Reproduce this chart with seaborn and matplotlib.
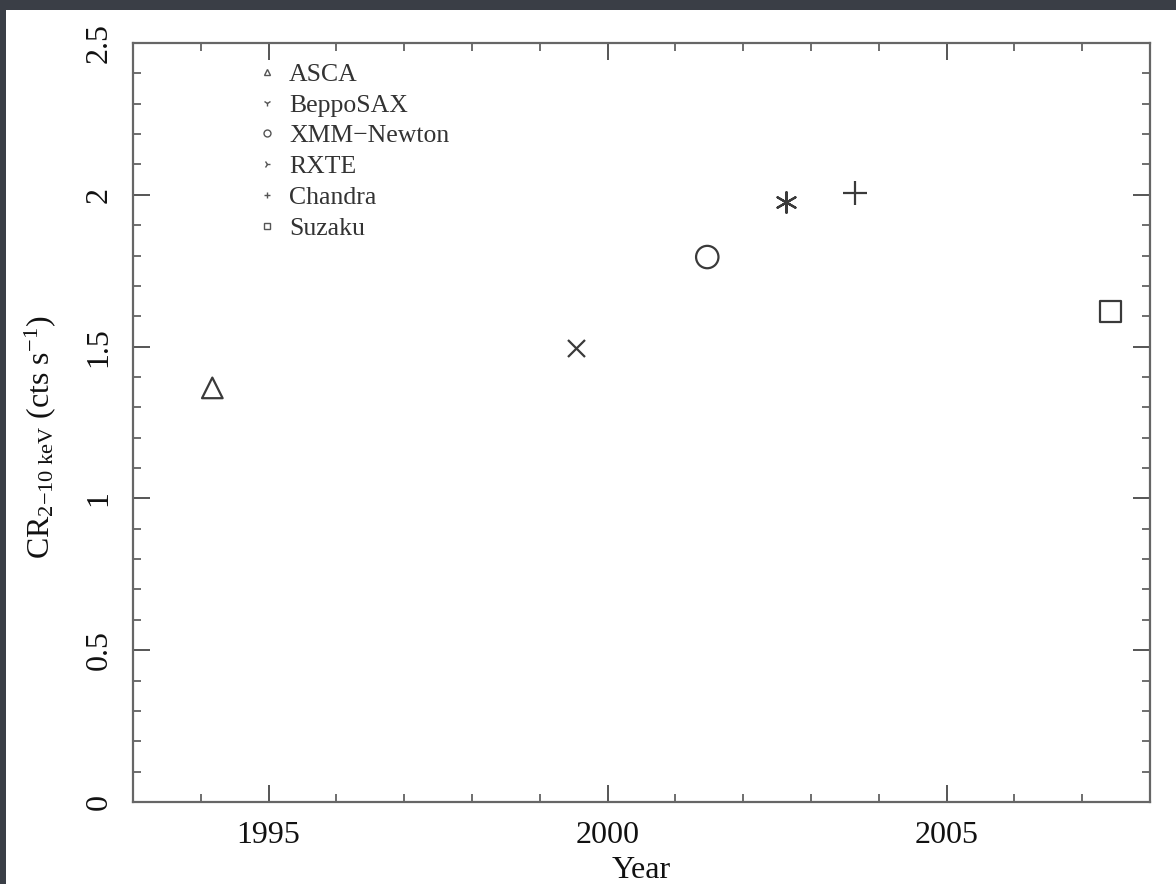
import matplotlib
matplotlib.use("Agg")
import matplotlib.pyplot as plt
import seaborn as sns
import pandas as pd
from matplotlib.lines import Line2D
from matplotlib.patches import Rectangle
from matplotlib.ticker import MultipleLocator

missions = ["ASCA", "BeppoSAX", "XMM\u2212Newton", "RXTE", "Chandra", "Suzaku"]
years = [1994.17, 1999.53, 2001.47, 2002.63, 2003.65, 2007.42]
rates = [1.364, 1.495, 1.795, 1.976, 2.006, 1.617]
plot_markers = ["^", "x", "o", (6, 2, 0), "+", "s"]
legend_markers = ["^", "1", "o", "4", "+", "s"]

sns.set_theme(style="ticks")
plt.rcParams["font.family"] = ["Liberation Serif", "DejaVu Serif"]
plt.rcParams["mathtext.fontset"] = "custom"
plt.rcParams["mathtext.rm"] = "Liberation Serif"
plt.rcParams["mathtext.it"] = "Liberation Serif:italic"

fig = plt.figure(figsize=(11.76, 8.84), dpi=100, facecolor="#3a3e46")
fig.patches.append(Rectangle((6 / 1176, 0), 1170 / 1176, 874 / 884,
                             transform=fig.transFigure, facecolor="white",
                             edgecolor="none", zorder=-10))
ax = fig.add_axes([133 / 1176, 1 - 802 / 884, (1150 - 133) / 1176, (802 - 43) / 884])
ax.set_zorder(5)
ax.set_facecolor("white")

df = pd.DataFrame({"Mission": missions, "Year": years, "CR": rates})
ink = "#3a3a3a"
sizes = [220, 150, 260, 220, 280, 230]
for m, mk, size in zip(missions, plot_markers, sizes):
    sub = df[df["Mission"] == m]
    hollow = mk in ("^", "o", "s")
    sns.scatterplot(data=sub, x="Year", y="CR", ax=ax, marker=mk, s=size,
                    facecolor="none" if hollow else ink,
                    edgecolor=ink, color=ink, linewidth=1.6, legend=False, zorder=3)

ax.set_xlim(1993, 2008)
ax.set_ylim(0, 2.5)
ax.xaxis.set_major_locator(MultipleLocator(5))
ax.xaxis.set_minor_locator(MultipleLocator(1))
ax.yaxis.set_major_locator(MultipleLocator(0.5))
ax.yaxis.set_minor_locator(MultipleLocator(0.1))
ax.set_yticks([0, 0.5, 1, 1.5, 2, 2.5])
ax.set_yticklabels(["0", "0.5", "1", "1.5", "2", "2.5"], rotation=90, va="center")
ax.tick_params(which="both", direction="in", top=True, right=True,
               color="#555555", labelsize=23, labelcolor="#111111")
ax.tick_params(which="major", length=12, width=1.4, pad=14)
ax.tick_params(which="minor", length=6, width=1.2)
for s in ax.spines.values():
    s.set_color("#666666")
    s.set_linewidth(1.6)

ax.set_xlabel("Year", fontsize=23, color="#111111", labelpad=4)
ax.set_ylabel(r"CR$_{2\mathrm{-}10\ \mathrm{keV}}$ (cts s$^{-1}$)", fontsize=23,
              color="#111111")
ax.yaxis.set_label_coords(-0.074, 0.481)

handles = [Line2D([], [], linestyle="none", marker=mk, markersize=5,
                  markerfacecolor="none" if mk in ("^", "o", "s") else "#555555",
                  markeredgecolor="#555555", markeredgewidth=1.0)
           for mk in legend_markers]
ax.legend(handles, missions, loc="upper left", bbox_to_anchor=(0.103, 1.004),
          frameon=False, fontsize=18.5, handlelength=0.5, handletextpad=0.6,
          labelspacing=0.3, labelcolor="#333333")

fig.savefig("out.png", dpi=100, facecolor=fig.get_facecolor())
